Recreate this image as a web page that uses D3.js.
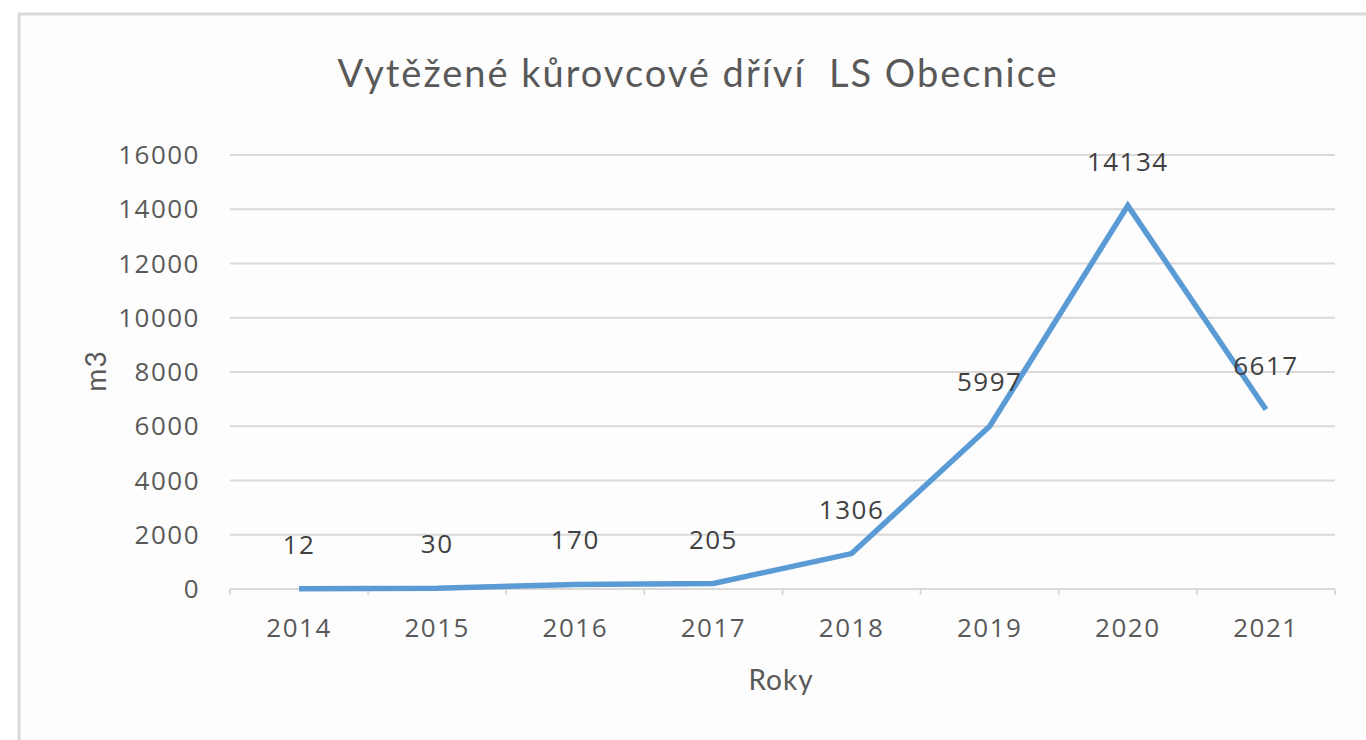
<!DOCTYPE html>
<meta charset="utf-8">
<style>
body { margin: 0; background: #fff; }
.chart text { fill: #595959; }
.chart .grid line { stroke: #d9d9d9; stroke-width: 2; }
.chart .series { fill: none; stroke: #5b9bd5; stroke-width: 5.5; stroke-linejoin: miter; }
.chart .num { font-size: 26px; letter-spacing: 1.5px; }
</style>
<body>
<svg class="chart js-chart"></svg>
<script src="https://cdn.jsdelivr.net/npm/d3@7"></script>
<script>
"use strict";

var years = ["2014", "2015", "2016", "2017", "2018", "2019", "2020", "2021"];
var volumes = [12, 30, 170, 205, 1306, 5997, 14134, 6617];
var yTicks = [0, 2000, 4000, 6000, 8000, 10000, 12000, 14000, 16000];

var width = 1366, height = 740,
    plot = { left: 230, right: 1335, top: 155, bottom: 589 };

var svg = d3.select(".js-chart")
    .attr("width", width)
    .attr("height", height)
    .style("font-family", "'Open Sans', sans-serif");

// chart frame
svg.append("rect")
    .attr("x", 19).attr("y", 14)
    .attr("width", 1360).attr("height", 740)
    .attr("fill", "#fdfdfd")
    .attr("stroke", "#d9d9d9")
    .attr("stroke-width", 3);

var x = d3.scaleBand().domain(years).range([plot.left, plot.right]);
var y = d3.scaleLinear().domain([0, 16000]).range([plot.bottom, plot.top]);

// gridlines
svg.append("g").attr("class", "grid")
    .selectAll("line").data(yTicks).join("line")
    .attr("x1", plot.left).attr("x2", plot.right)
    .attr("y1", function(d) { return y(d); })
    .attr("y2", function(d) { return y(d); });

// y tick labels
svg.append("g")
    .selectAll("text").data(yTicks).join("text")
    .attr("class", "num")
    .attr("x", 200)
    .attr("y", function(d) { return y(d); })
    .attr("dy", "0.35em")
    .attr("text-anchor", "end")
    .text(function(d) { return d; });

// x axis ticks at band edges
var edges = years.map(function(d) { return x(d); }).concat([plot.right]);
svg.append("g")
    .selectAll("line").data(edges).join("line")
    .attr("x1", function(d) { return d; }).attr("x2", function(d) { return d; })
    .attr("y1", plot.bottom).attr("y2", plot.bottom + 6)
    .attr("stroke", "#d9d9d9").attr("stroke-width", 2);

svg.append("g")
    .selectAll("text").data(years).join("text")
    .attr("class", "num")
    .attr("x", function(d) { return x(d) + x.bandwidth() / 2; })
    .attr("y", 628)
    .attr("dy", "0.35em")
    .attr("text-anchor", "middle")
    .text(function(d) { return d; });

// series line
var line = d3.line()
    .x(function(d, i) { return x(years[i]) + x.bandwidth() / 2; })
    .y(function(d) { return y(d); });

svg.append("path")
    .datum(volumes)
    .attr("class", "series")
    .attr("d", line);

// data labels
svg.append("g")
    .selectAll("text").data(volumes).join("text")
    .attr("class", "num")
    .attr("x", function(d, i) { return x(years[i]) + x.bandwidth() / 2; })
    .attr("y", function(d) { return y(d) - 44; })
    .attr("dy", "0.35em")
    .attr("text-anchor", "middle")
    .style("fill", "#404040")
    .text(function(d) { return d; });

// titles
svg.append("text")
    .attr("x", 698).attr("y", 74)
    .attr("dy", "0.35em")
    .attr("text-anchor", "middle")
    .style("font-family", "Lato, sans-serif")
    .style("font-size", "38px")
    .style("letter-spacing", "2px")
    .style("white-space", "pre")
    .text("Vytěžené kůrovcové dříví  LS Obecnice");

svg.append("text")
    .attr("x", 781).attr("y", 680)
    .attr("dy", "0.35em")
    .attr("text-anchor", "middle")
    .style("font-family", "Lato, sans-serif")
    .style("font-size", "28px")
    .style("letter-spacing", "1px")
    .text("Roky");

svg.append("text")
    .attr("transform", "translate(96,371) rotate(-90)")
    .attr("dy", "0.35em")
    .attr("text-anchor", "middle")
    .style("font-family", "Lato, sans-serif")
    .style("font-size", "28px")
    .style("letter-spacing", "1px")
    .text("m3");
</script>
</body>
